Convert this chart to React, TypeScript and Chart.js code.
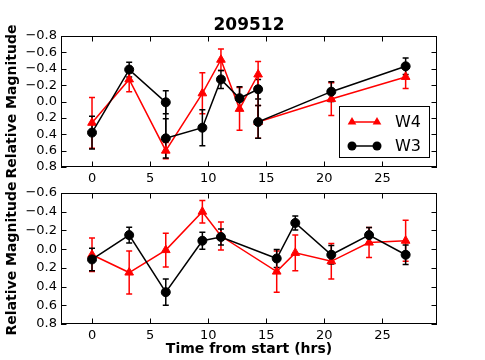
import React, { useEffect, useRef } from 'react';
import { Chart, registerables } from 'chart.js';
Chart.register(...registerables);

// ---------- data ----------
// Top panel (209512)
const topW4Time = [0, 3.2, 6.35, 9.5, 11.1, 12.7, 14.3, 14.3, 20.6, 27.0];
const topW4Mag = [0.26, -0.27, 0.60, -0.10, -0.51, 0.09, -0.33, 0.25, -0.03, -0.30];
const topW4Err = [0.31, 0.15, 0.10, 0.25, 0.13, 0.26, 0.16, 0.20, 0.20, 0.14];
const topW3Time = [0, 3.2, 6.35, 6.35, 9.5, 11.1, 12.7, 14.3, 14.3, 20.6, 27.0];
const topW3Mag = [0.38, -0.39, 0.01, 0.45, 0.32, -0.27, -0.04, -0.15, 0.25, -0.12, -0.43];
const topW3Err = [0.20, 0.09, 0.14, 0.24, 0.22, 0.11, 0.14, 0.12, 0.20, 0.12, 0.10];

// Bottom panel
const botTime = [0, 3.2, 6.35, 9.5, 11.1, 15.9, 17.5, 20.6, 23.85, 27.0];
const botW4Mag = [0.06, 0.25, 0.01, -0.40, -0.14, 0.24, 0.04, 0.13, -0.07, -0.09];
const botW4Err = [0.18, 0.23, 0.18, 0.12, 0.15, 0.22, 0.19, 0.19, 0.16, 0.22];
const botW3Mag = [0.11, -0.15, 0.46, -0.09, -0.13, 0.10, -0.28, 0.06, -0.15, 0.06];
const botW3Err = [0.12, 0.085, 0.14, 0.09, 0.085, 0.095, 0.075, 0.10, 0.08, 0.105];

const titleText = '209512';
const yLabel = 'Relative Magnitude';
const xLabel = 'Time from start (hrs)';
const seriesNames = ['W4', 'W3'];
const xMin = -2.67;
const xMax = 29.7;

const FONT = "'DejaVu Sans', sans-serif";
const RED = '#ff0000';
const BLACK = '#000000';

function fmtMag(v: number): string {
  const s = Math.abs(v) < 1e-9 ? '0.0' : v.toFixed(1);
  return s.replace('-', '\u2212');
}

function pts(t: number[], y: number[]) {
  return t.map((x, i) => ({ x, y: y[i] }));
}

const errorBars = {
  id: 'errorBars',
  beforeDatasetsDraw(chart: any) {
    const { ctx } = chart;
    const ys = chart.scales.y;
    const xs = chart.scales.x;
    const order = [1, 0];
    ctx.save();
    order.forEach((di) => {
      const ds = chart.data.datasets[di];
      const errs: number[] = ds.errors;
      ctx.strokeStyle = ds.borderColor;
      ctx.lineWidth = 1.5;
      ctx.beginPath();
      ds.data.forEach((p: any, i: number) => {
        const px = xs.getPixelForValue(p.x);
        const y1 = ys.getPixelForValue(p.y - errs[i]);
        const y2 = ys.getPixelForValue(p.y + errs[i]);
        ctx.moveTo(px, y1);
        ctx.lineTo(px, y2);
        ctx.moveTo(px - 3, y1);
        ctx.lineTo(px + 3, y1);
        ctx.moveTo(px - 3, y2);
        ctx.lineTo(px + 3, y2);
      });
      ctx.stroke();
    });
    ctx.restore();
  },
};

const frameTicks = {
  id: 'frameTicks',
  afterDatasetsDraw(chart: any) {
    const { ctx, chartArea: a } = chart;
    const xs = chart.scales.x;
    const ys = chart.scales.y;
    const L = 5.5;
    ctx.save();
    ctx.strokeStyle = '#000';
    ctx.lineWidth = 1;
    ctx.beginPath();
    xs.ticks.forEach((t: any) => {
      const px = Math.round(xs.getPixelForValue(t.value)) + 0.5;
      ctx.moveTo(px, a.bottom);
      ctx.lineTo(px, a.bottom - L);
      ctx.moveTo(px, a.top);
      ctx.lineTo(px, a.top + L);
    });
    ys.ticks.forEach((t: any) => {
      const py = Math.round(ys.getPixelForValue(t.value)) + 0.5;
      ctx.moveTo(a.left, py);
      ctx.lineTo(a.left + L, py);
      ctx.moveTo(a.right, py);
      ctx.lineTo(a.right - L, py);
    });
    ctx.stroke();
    ctx.strokeRect(a.left + 0.5, a.top + 0.5, a.right - a.left - 1, a.bottom - a.top - 1);
    ctx.restore();
  },
};

function drawYLabel(ctx: CanvasRenderingContext2D, cy: number) {
  ctx.save();
  ctx.translate(12, cy);
  ctx.rotate(-Math.PI / 2);
  ctx.font = `bold 14px ${FONT}`;
  ctx.fillStyle = '#000';
  ctx.textAlign = 'center';
  ctx.textBaseline = 'middle';
  ctx.fillText(yLabel, 0, 0);
  ctx.restore();
}

const topText = {
  id: 'topText',
  afterDraw(chart: any) {
    const { ctx, chartArea: a } = chart;
    ctx.save();
    ctx.font = `bold 17px ${FONT}`;
    ctx.fillStyle = '#000';
    ctx.textAlign = 'center';
    ctx.textBaseline = 'middle';
    ctx.fillText(titleText, (a.left + a.right) / 2, 26);
    ctx.restore();
    drawYLabel(ctx, (a.top + a.bottom) / 2);

    // legend
    ctx.save();
    const bx = 339.5, by = 106.5, bw = 90, bh = 51;
    ctx.fillStyle = '#fff';
    ctx.fillRect(bx, by, bw, bh);
    ctx.strokeStyle = '#000';
    ctx.lineWidth = 1;
    ctx.strokeRect(bx, by, bw, bh);
    const rows = [
      { name: seriesNames[0], color: RED, y: 122, tri: true },
      { name: seriesNames[1], color: BLACK, y: 146, tri: false },
    ];
    rows.forEach((r) => {
      ctx.strokeStyle = r.color;
      ctx.fillStyle = r.color;
      ctx.lineWidth = 1.5;
      ctx.beginPath();
      ctx.moveTo(352, r.y);
      ctx.lineTo(377, r.y);
      ctx.stroke();
      [352, 377].forEach((mx) => {
        ctx.beginPath();
        if (r.tri) {
          const rr = 5;
          ctx.moveTo(mx, r.y - rr);
          ctx.lineTo(mx + rr * 0.866, r.y + rr * 0.5);
          ctx.lineTo(mx - rr * 0.866, r.y + rr * 0.5);
          ctx.closePath();
        } else {
          ctx.arc(mx, r.y, 4.5, 0, Math.PI * 2);
        }
        ctx.fill();
      });
      ctx.fillStyle = '#000';
      ctx.font = `16px ${FONT}`;
      ctx.textAlign = 'left';
      ctx.textBaseline = 'middle';
      ctx.fillText(r.name, 395, r.y + 1);
    });
    ctx.restore();
  },
};

const bottomText = {
  id: 'bottomText',
  afterDraw(chart: any) {
    const { ctx, chartArea: a } = chart;
    drawYLabel(ctx, (a.top + a.bottom) / 2);
    ctx.save();
    ctx.font = `bold 14px ${FONT}`;
    ctx.fillStyle = '#000';
    ctx.textAlign = 'center';
    ctx.textBaseline = 'middle';
    ctx.fillText(xLabel, (a.left + a.right) / 2, 349);
    ctx.restore();
  },
};

function makeConfig(opts: {
  w4: { x: number; y: number }[];
  w4e: number[];
  w3: { x: number; y: number }[];
  w3e: number[];
  yMin: number;
  yMax: number;
  padTop: number;
  padBottom: number;
  textPlugin: any;
}): any {
  return {
    type: 'line',
    data: {
      datasets: [
        {
          label: seriesNames[1],
          data: opts.w3,
          errors: opts.w3e,
          borderColor: BLACK,
          backgroundColor: BLACK,
          borderWidth: 1.5,
          pointStyle: 'circle',
          pointRadius: 4.5,
          pointBorderWidth: 1,
          tension: 0,
        },
        {
          label: seriesNames[0],
          data: opts.w4,
          errors: opts.w4e,
          borderColor: RED,
          backgroundColor: RED,
          borderWidth: 1.5,
          pointStyle: 'triangle',
          pointRadius: 5,
          pointBorderWidth: 1,
          tension: 0,
        },
      ],
    },
    options: {
      animation: false,
      responsive: false,
      events: [],
      layout: { padding: { left: 0, right: 48, top: opts.padTop, bottom: opts.padBottom } },
      plugins: { legend: { display: false }, tooltip: { enabled: false }, title: { display: false } },
      scales: {
        x: {
          type: 'linear',
          min: xMin,
          max: xMax,
          grid: { display: false, drawTicks: false },
          border: { display: false },
          ticks: {
            stepSize: 5,
            includeBounds: false,
            autoSkip: false,
            padding: 4,
            color: '#000',
            font: { family: FONT, size: 13 },
            maxRotation: 0,
            callback: (v: number) => String(Math.round(v)),
          },
          afterFit: (s: any) => {
            s.height = 20;
          },
        },
        y: {
          type: 'linear',
          min: opts.yMin,
          max: opts.yMax,
          reverse: true,
          grid: { display: false, drawTicks: false },
          border: { display: false },
          ticks: {
            stepSize: 0.2,
            autoSkip: false,
            padding: 4,
            color: '#000',
            font: { family: FONT, size: 13 },
            callback: (v: number) => fmtMag(v),
          },
          afterFit: (s: any) => {
            s.width = 61;
          },
        },
      },
    },
    plugins: [errorBars, frameTicks, opts.textPlugin],
  };
}

export default function App() {
  const topRef = useRef<HTMLCanvasElement>(null);
  const botRef = useRef<HTMLCanvasElement>(null);

  useEffect(() => {
    const c1 = new Chart(
      topRef.current as HTMLCanvasElement,
      makeConfig({
        w4: pts(topW4Time, topW4Mag),
        w4e: topW4Err,
        w3: pts(topW3Time, topW3Mag),
        w3e: topW3Err,
        yMin: -0.8,
        yMax: 0.8,
        padTop: 36,
        padBottom: 360 - 167 - 20,
        textPlugin: topText,
      })
    );
    const c2 = new Chart(
      botRef.current as HTMLCanvasElement,
      makeConfig({
        w4: pts(botTime, botW4Mag),
        w4e: botW4Err,
        w3: pts(botTime, botW3Mag),
        w3e: botW3Err,
        yMin: -0.6,
        yMax: 0.8,
        padTop: 193,
        padBottom: 360 - 324 - 20,
        textPlugin: bottomText,
      })
    );
    return () => {
      c1.destroy();
      c2.destroy();
    };
  }, []);

  const cs: React.CSSProperties = { position: 'absolute', left: 0, top: 0, width: 485, height: 360 };
  return (
    <div style={{ position: 'absolute', left: 0, top: 0, width: 485, height: 360, background: '#fff' }}>
      <canvas ref={topRef} width={485} height={360} style={cs} />
      <canvas ref={botRef} width={485} height={360} style={cs} />
    </div>
  );
}
